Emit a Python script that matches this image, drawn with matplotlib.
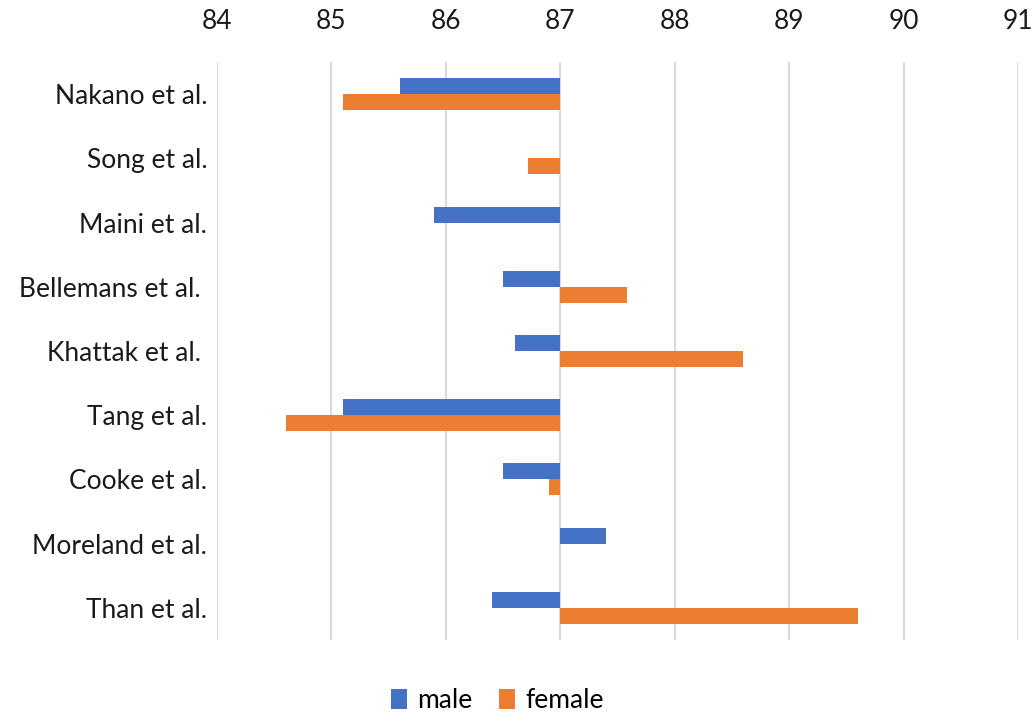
import matplotlib
matplotlib.use("Agg")
import matplotlib.pyplot as plt
import numpy as np

studies = ["Nakano et al.", "Song et al.", "Maini et al.", "Bellemans et al. ",
           "Khattak et al. ", "Tang et al.", "Cooke et al.", "Moreland et al.", "Than et al."]
male = [85.6, np.nan, 85.9, 86.5, 86.6, 85.1, 86.5, 87.4, 86.4]
female = [85.1, 86.72, np.nan, 87.58, 88.6, 84.6, 86.9, np.nan, 89.6]
base = 87
xticks = [84, 85, 86, 87, 88, 89, 90, 91]

plt.rcParams['font.family'] = ['Lato', 'DejaVu Sans']

fig = plt.figure(figsize=(10.36, 7.13), dpi=100)
ax = fig.add_axes([0.2095, 0.1024, 0.7731, 0.8106])

y = np.arange(len(studies))
h = 0.25
m = np.array(male, dtype=float)
f = np.array(female, dtype=float)
mm = ~np.isnan(m)
fm = ~np.isnan(f)
ax.barh(y[mm] - h / 2, m[mm] - base, left=base, height=h, color='#4472C4', label='male', zorder=3)
ax.barh(y[fm] + h / 2, f[fm] - base, left=base, height=h, color='#ED7D31', label='female', zorder=3)

ax.set_xlim(84, 91)
ax.set_ylim(len(studies) - 0.5, -0.5)
ax.set_xticks(xticks)
ax.xaxis.tick_top()
ax.tick_params(axis='x', length=0, pad=20, labelsize=19, colors='#1a1a1a')
ax.tick_params(axis='y', length=0, pad=7, labelsize=19, colors='#1a1a1a')
ax.set_yticks(y)
ax.set_yticklabels(studies)
ax.grid(axis='x', color='#d9d9d9', linewidth=1.5, zorder=0)
for s in ax.spines.values():
    s.set_visible(False)

fig.legend(loc='center', bbox_to_anchor=(0.48, 0.017), ncol=2, frameon=False,
           fontsize=19, handlelength=0.6, handleheight=0.8, handletextpad=0.4,
           columnspacing=1.0, borderpad=0.1)

fig.savefig('out.png', dpi=100, facecolor='white')
